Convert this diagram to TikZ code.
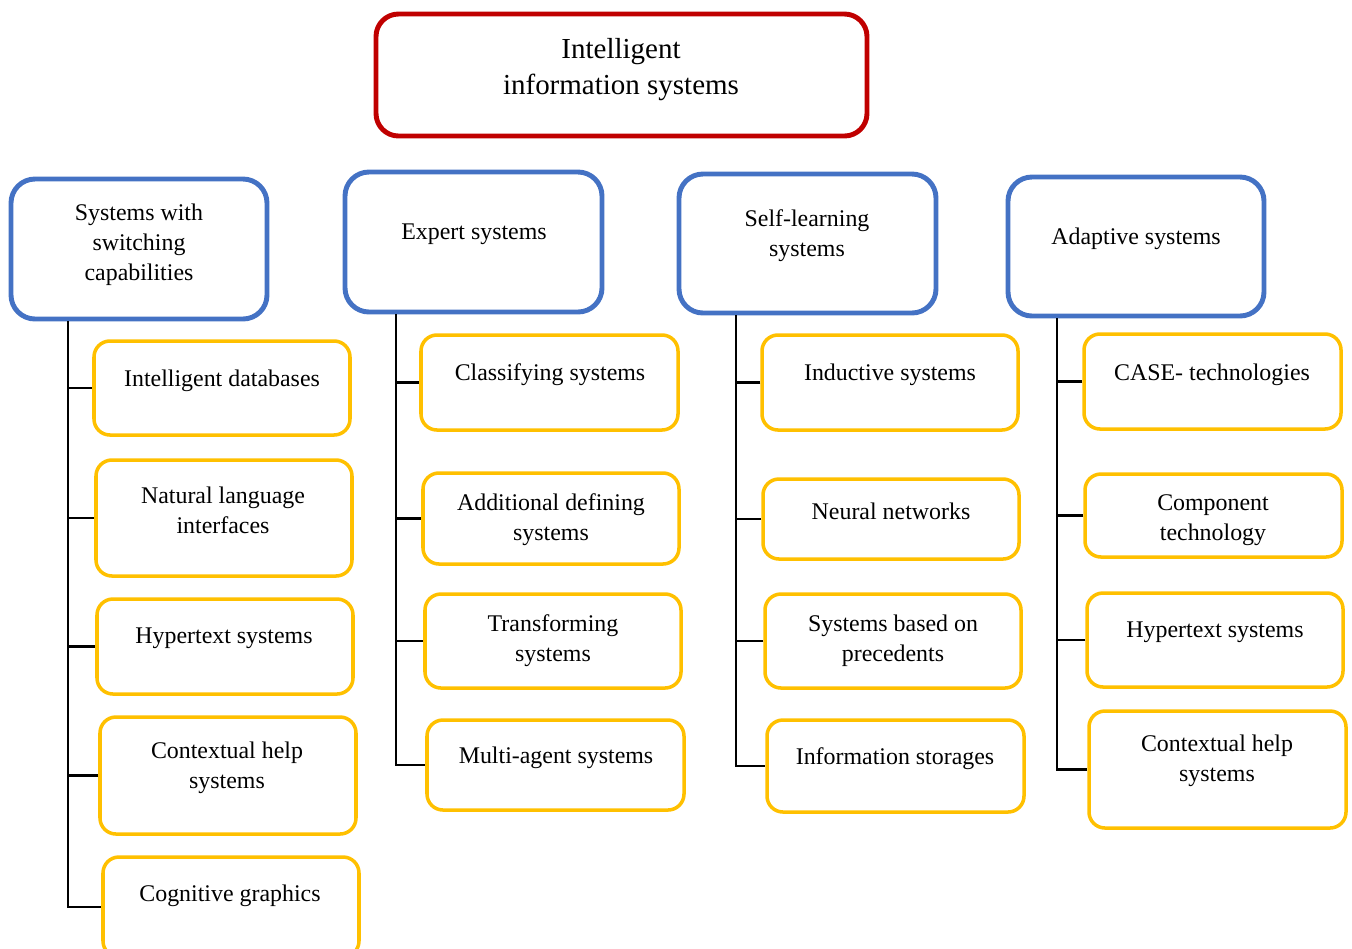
\documentclass[tikz,border=0pt]{standalone}
\usepackage{fontspec}
\setmainfont{Liberation Serif}
\usetikzlibrary{fit}
\definecolor{rootred}{RGB}{192,0,0}
\definecolor{groupblue}{RGB}{68,114,196}
\definecolor{itemyellow}{RGB}{255,192,0}
\tikzset{
  rootbox/.style={draw=rootred, line width=2.8pt, rounded corners=0.45cm, inner sep=0pt},
  groupbox/.style={draw=groupblue, line width=2.8pt, rounded corners=0.48cm, inner sep=0pt},
  itembox/.style={draw=itemyellow, line width=2pt, rounded corners=0.32cm, inner sep=0pt},
  lbl/.style={align=center, inner sep=0pt, yshift=-0.05cm, font=\fontsize{13.6}{17}\selectfont},
  rootlbl/.style={align=center, inner sep=0pt, yshift=-0.05cm, font=\fontsize{16.5}{20.5}\selectfont},
  link/.style={line width=1.4pt}
}
\begin{document}
\begin{tikzpicture}[x=0.02cm,y=-0.02cm]
\path[clip, use as bounding box] (0,0) rectangle (1352,948);
% root
\node[rootbox, fit={(376,14) (867,136)}] (root) {};
\node[rootlbl] (roott) at (621,67) {Intelligent\\information systems};
% groups
\node[groupbox, fit={(11,179) (267,319)}] (g1) {};
\node[groupbox, fit={(345,172) (602,312)}] (g2) {};
\node[groupbox, fit={(679,174) (936,313)}] (g3) {};
\node[groupbox, fit={(1008,177) (1264,316)}] (g4) {};
\node[lbl] (g1t) at (139,242) {Systems with\\switching\\capabilities};
\node[lbl] (g2t) at (474,232) {Expert systems};
\node[lbl] (g3t) at (807,233) {Self-learning\\systems};
\node[lbl] (g4t) at (1136,236) {Adaptive systems};
% column 1
\node[itembox, fit={(94,341) (350,435)}] (a1) {};
\node[itembox, fit={(96,460) (352,576)}] (a2) {};
\node[itembox, fit={(97,599) (353,694)}] (a3) {};
\node[itembox, fit={(100,717) (356,834)}] (a4) {};
\node[itembox, fit={(103,857) (359,957)}] (a5) {};
\node[lbl] (a1t) at (222,378) {Intelligent databases};
\node[lbl] (a2t) at (223,508) {Natural language\\interfaces};
\node[lbl] (a3t) at (224,636) {Hypertext systems};
\node[lbl] (a4t) at (227,765) {Contextual help\\systems};
\node[lbl] (a5t) at (230,893) {Cognitive graphics};
% column 2
\node[itembox, fit={(421,335) (678,430)}] (b1) {};
\node[itembox, fit={(423,473) (679,564)}] (b2) {};
\node[itembox, fit={(425,594) (681,688)}] (b3) {};
\node[itembox, fit={(427,720) (684,810)}] (b4) {};
\node[lbl] (b1t) at (550,372) {Classifying systems};
\node[lbl] (b2t) at (551,517) {Additional defining\\systems};
\node[lbl] (b3t) at (553,638) {Transforming\\systems};
\node[lbl] (b4t) at (556,755) {Multi-agent systems};
% column 3
\node[itembox, fit={(762,335) (1018,430)}] (c1) {};
\node[itembox, fit={(763,479) (1019,559)}] (c2) {};
\node[itembox, fit={(765,594) (1021,688)}] (c3) {};
\node[itembox, fit={(767,720) (1024,812)}] (c4) {};
\node[lbl] (c1t) at (890,372) {Inductive systems};
\node[lbl] (c2t) at (891,509) {Neural networks};
\node[lbl] (c3t) at (893,638) {Systems based on\\precedents};
\node[lbl] (c4t) at (895,756) {Information storages};
% column 4
\node[itembox, fit={(1084,334) (1341,429)}] (d1) {};
\node[itembox, fit={(1085,474) (1342,557)}] (d2) {};
\node[itembox, fit={(1087,593) (1343,687)}] (d3) {};
\node[itembox, fit={(1089,711) (1346,828)}] (d4) {};
\node[lbl] (d1t) at (1212,372) {CASE- technologies};
\node[lbl] (d2t) at (1213,518) {Component\\technology};
\node[lbl] (d3t) at (1215,630) {Hypertext systems};
\node[lbl] (d4t) at (1217,758) {Contextual help\\systems};
% trunks
\coordinate (t1) at (68,321);
\coordinate (t2) at (396,314);
\coordinate (t3) at (736,315);
\coordinate (t4) at (1057,318);
\draw[link] (t1) |- (a5.west);
\draw[link] (t2) |- (b4.west);
\draw[link] (t3) |- (c4.west);
\draw[link] (t4) |- (d4.west);
\draw[link] (a1.west) -- (a1.west -| t1);
\draw[link] (a2.west) -- (a2.west -| t1);
\draw[link] (a3.west) -- (a3.west -| t1);
\draw[link] (a4.west) -- (a4.west -| t1);
\draw[link] (b1.west) -- (b1.west -| t2);
\draw[link] (b2.west) -- (b2.west -| t2);
\draw[link] (b3.west) -- (b3.west -| t2);
\draw[link] (c1.west) -- (c1.west -| t3);
\draw[link] (c2.west) -- (c2.west -| t3);
\draw[link] (c3.west) -- (c3.west -| t3);
\draw[link] (d1.west) -- (d1.west -| t4);
\draw[link] (d2.west) -- (d2.west -| t4);
\draw[link] (d3.west) -- (d3.west -| t4);
\end{tikzpicture}
\end{document}
